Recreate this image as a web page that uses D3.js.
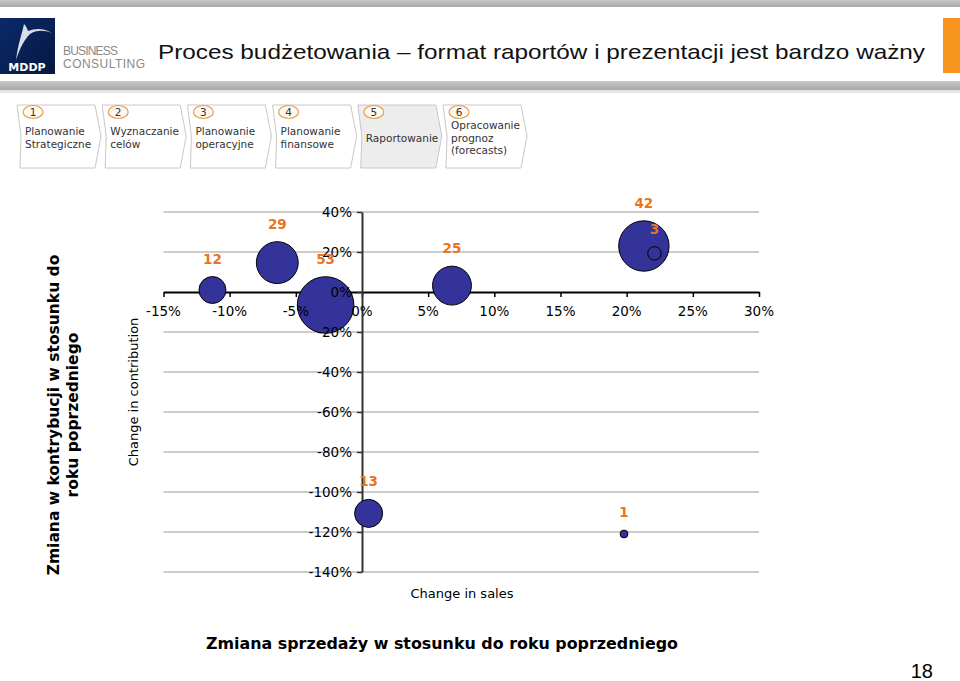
<!DOCTYPE html>
<html>
<head>
<meta charset="utf-8">
<script src="https://cdn.jsdelivr.net/npm/d3@7"></script>
<style>
  html, body { margin: 0; padding: 0; background: #fff; }
  svg { display: block; }
</style>
</head>
<body>
<div id="chart"></div>
<script>
// ---------------- data ----------------
const salesChange = [-11.3, -6.4, -2.75, 6.8, 21.3, 22.1, 0.5, 19.8];
const contributionChange = [1, 14.7, -6.5, 3.2, 23, 19.3, -110.7, -121];
const bubbleSizes = [12, 29, 53, 25, 42, 3, 13, 1];
const xTicks = [-15, -10, -5, 0, 5, 10, 15, 20, 25, 30];
const yTicks = [40, 20, 0, -20, -40, -60, -80, -100, -120, -140];
const steps = [
  { n: "1", lines: ["Planowanie", "Strategiczne"] },
  { n: "2", lines: ["Wyznaczanie", "celów"] },
  { n: "3", lines: ["Planowanie", "operacyjne"] },
  { n: "4", lines: ["Planowanie", "finansowe"] },
  { n: "5", lines: ["Raportowanie"] },
  { n: "6", lines: ["Opracowanie", "prognoz", "(forecasts)"] }
];
const pageTitle = "Proces budżetowania – format raportów i prezentacji jest bardzo ważny";
const yTitle = ["Zmiana w kontrybucji w stosunku do", "roku poprzedniego"];
const xTitle = "Zmiana sprzedaży w stosunku do roku poprzedniego";
const pageNumber = "18";

const W = 960, H = 681;
const svg = d3.select("#chart").append("svg").attr("width", W).attr("height", H);

// ---------------- header ----------------
const defs = svg.append("defs");
const g1 = defs.append("linearGradient").attr("id", "grayband").attr("x1", 0).attr("y1", 0).attr("x2", 0).attr("y2", 1);
g1.append("stop").attr("offset", "0%").attr("stop-color", "#c8c8c8");
g1.append("stop").attr("offset", "100%").attr("stop-color", "#a8a8a8");
const g2 = defs.append("linearGradient").attr("id", "logo").attr("x1", 0).attr("y1", 0).attr("x2", 1).attr("y2", 1);
g2.append("stop").attr("offset", "0%").attr("stop-color", "#0b2a6a");
g2.append("stop").attr("offset", "100%").attr("stop-color", "#06173f");

svg.append("rect").attr("x", 0).attr("y", 0).attr("width", W).attr("height", 7).attr("fill", "url(#grayband)");
svg.append("rect").attr("x", 0).attr("y", 81).attr("width", W).attr("height", 9).attr("fill", "url(#grayband)");
svg.append("rect").attr("x", 0).attr("y", 90).attr("width", W).attr("height", 3).attr("fill", "#e6e6e6");

// logo
svg.append("rect").attr("x", 0).attr("y", 18).attr("width", 55).attr("height", 56).attr("fill", "url(#logo)");
svg.append("path")
  .attr("d", "M24,24 C22,34 18,44 16,60 C20,48 24,40 30,34 C36,30 44,30 52,33 C44,28 36,28 28,31 C27,28 26,26 24,24 Z")
  .attr("fill", "#d8dde8");
svg.append("text").attr("x", 27).attr("y", 71).attr("text-anchor", "middle")
  .attr("font-family", "DejaVu Sans, sans-serif").attr("font-weight", "bold").attr("font-size", 11)
  .attr("fill", "#fff").text("MDDP");
svg.append("text").attr("x", 63).attr("y", 55).attr("font-family", "Liberation Sans, sans-serif")
  .attr("font-size", 12).attr("fill", "#8a8a8a").attr("textLength", 55).text("BUSINESS");
svg.append("text").attr("x", 63).attr("y", 68).attr("font-family", "Liberation Sans, sans-serif")
  .attr("font-size", 12).attr("fill", "#8a8a8a").attr("textLength", 82).text("CONSULTING");

svg.append("text").attr("x", 158).attr("y", 59)
  .attr("font-family", "Liberation Sans, Arial, sans-serif").attr("font-size", 21).attr("fill", "#111")
  .attr("textLength", 767).attr("lengthAdjust", "spacingAndGlyphs").text(pageTitle);

svg.append("rect").attr("x", 943).attr("y", 18).attr("width", 17).attr("height", 55).attr("fill", "#f7941d");

// ---------------- process steps ----------------
const stepX = d3.scaleLinear().domain([0, 5]).range([17, 443]);
const stepG = svg.append("g").selectAll("g").data(steps).join("g")
  .attr("transform", (d, i) => `translate(${stepX(i)},0)`);
stepG.append("path")
  .attr("d", "M0,105 L78,105 L84,136 L78,168 L3,168 L4,136 Z")
  .attr("fill", (d, i) => i === 4 ? "#ededed" : "#fff")
  .attr("stroke", "#c8c8c8").attr("stroke-width", 1);
stepG.append("ellipse").attr("cx", 16).attr("cy", 112).attr("rx", 10).attr("ry", 6.5)
  .attr("fill", "#fff8ee").attr("stroke", "#e0a050").attr("stroke-width", 1.2);
stepG.append("text").attr("x", 16).attr("y", 116).attr("text-anchor", "middle")
  .attr("font-family", "DejaVu Sans, sans-serif").attr("font-size", 10.5).attr("fill", "#333")
  .text(d => d.n);
stepG.each(function(d) {
  const n = d.lines.length;
  const startY = n === 1 ? 142 : (n === 2 ? 135 : 129);
  d3.select(this).selectAll("text.l").data(d.lines).join("text").attr("class", "l")
    .attr("x", 8).attr("y", (t, j) => startY + j * 12.5)
    .attr("font-family", "DejaVu Sans, sans-serif").attr("font-size", 10.5).attr("fill", "#333")
    .text(t => t);
});

// ---------------- chart ----------------
const x = d3.scaleLinear().domain([-15, 30]).range([163.5, 759]);
const y = d3.scaleLinear().domain([-140, 40]).range([572, 212]);
const r = d3.scaleSqrt().domain([0, 53]).range([0, 28.3]);
const fmt = v => v + "%";

// gridlines
svg.append("g").selectAll("line").data(yTicks.filter(v => v !== 0)).join("line")
  .attr("x1", x(-15)).attr("x2", x(30)).attr("y1", d => y(d)).attr("y2", d => y(d))
  .attr("stroke", "#999").attr("stroke-width", 1);

// axis lines (behind bubbles)
const xAxis = d3.axisBottom(x).tickValues(xTicks).tickFormat("").tickSizeInner(5).tickSizeOuter(0);
const xAxisG = svg.append("g").attr("transform", `translate(0,${y(0)})`).call(xAxis);
xAxisG.select(".domain").attr("stroke", "#000").attr("stroke-width", 2);
xAxisG.selectAll(".tick line").attr("stroke", "#000").attr("stroke-width", 1.5);

const yAxis = d3.axisLeft(y).tickValues(yTicks).tickFormat("").tickSizeInner(5).tickSizeOuter(0);
const yAxisG = svg.append("g").attr("transform", `translate(${x(0)},0)`).call(yAxis);
yAxisG.select(".domain").attr("stroke", "#333").attr("stroke-width", 2);
yAxisG.selectAll(".tick line").attr("stroke", "#333").attr("stroke-width", 1.5);

// bubbles
const pts = bubbleSizes.map((s, i) => ({ s, x: salesChange[i], y: contributionChange[i] }));
svg.append("g").selectAll("circle").data(pts).join("circle")
  .attr("cx", d => x(d.x)).attr("cy", d => y(d.y)).attr("r", d => r(d.s))
  .attr("fill", "#333399").attr("stroke", "#000").attr("stroke-width", 1);

// tick labels (on top)
svg.append("g").selectAll("text").data(xTicks).join("text")
  .attr("x", d => x(d)).attr("y", y(0) + 24).attr("text-anchor", "middle")
  .attr("font-family", "DejaVu Sans, Verdana, sans-serif").attr("font-size", 13.5).attr("fill", "#000")
  .text(fmt);
svg.append("g").selectAll("text").data(yTicks).join("text")
  .attr("x", x(0) - 10).attr("y", d => y(d) + 5).attr("text-anchor", "end")
  .attr("font-family", "DejaVu Sans, Verdana, sans-serif").attr("font-size", 13.5).attr("fill", "#000")
  .text(fmt);

// data labels
svg.append("g").selectAll("text").data(pts).join("text")
  .attr("x", d => x(d.x)).attr("y", d => y(d.y) - r(d.s) - 13).attr("text-anchor", "middle")
  .attr("font-family", "DejaVu Sans, Verdana, sans-serif").attr("font-weight", "bold").attr("font-size", 13.5)
  .attr("fill", "#e8741e").text(d => d.s);

// axis titles
svg.append("text").attr("transform", "translate(138,392) rotate(-90)").attr("text-anchor", "middle")
  .attr("font-family", "DejaVu Sans, Verdana, sans-serif").attr("font-size", 13).attr("fill", "#000")
  .text("Change in contribution");
svg.append("text").attr("x", 462).attr("y", 598).attr("text-anchor", "middle")
  .attr("font-family", "DejaVu Sans, Verdana, sans-serif").attr("font-size", 13).attr("fill", "#000")
  .text("Change in sales");

svg.append("g").attr("transform", "translate(0,415)").selectAll("text").data(yTitle).join("text")
  .attr("transform", (d, i) => `translate(${59 + i * 19},0) rotate(-90)`).attr("text-anchor", "middle")
  .attr("font-family", "DejaVu Sans, Verdana, sans-serif").attr("font-weight", "bold").attr("font-size", 15.5)
  .attr("fill", "#000").text(d => d);

svg.append("text").attr("x", 206).attr("y", 649)
  .attr("font-family", "DejaVu Sans, Verdana, sans-serif").attr("font-weight", "bold").attr("font-size", 15)
  .attr("fill", "#000").attr("textLength", 472).attr("lengthAdjust", "spacingAndGlyphs").text(xTitle);

svg.append("text").attr("x", 933).attr("y", 678).attr("text-anchor", "end")
  .attr("font-family", "Liberation Sans Narrow, Liberation Sans, sans-serif").attr("font-size", 20)
  .attr("fill", "#000").text(pageNumber);
</script>
</body>
</html>
